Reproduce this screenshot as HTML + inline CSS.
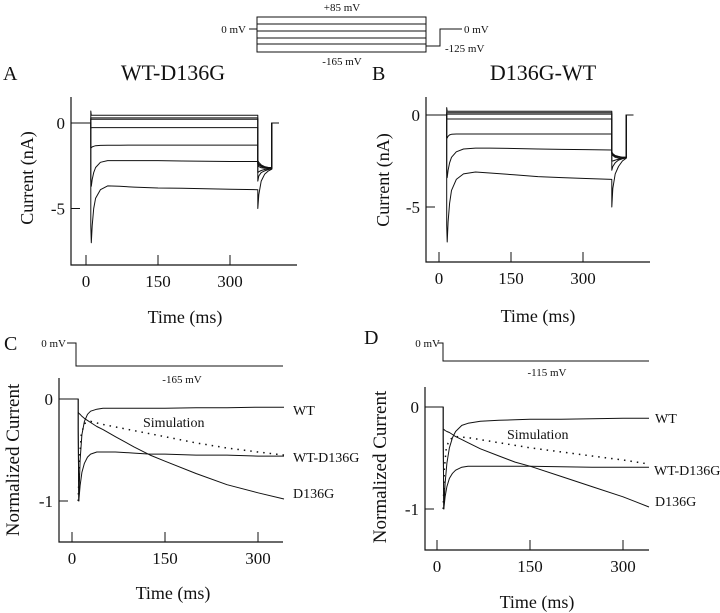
<!DOCTYPE html>
<html><head><meta charset="utf-8">
<style>
html,body{margin:0;padding:0;background:#fff;}
svg{display:block;font-family:"Liberation Serif",serif;}
text{fill:#111;}
</style></head>
<body>
<svg id="fig" width="720" height="613" viewBox="0 0 720 613">
  <rect x="0" y="0" width="720" height="613" fill="#fff"/>
  <g stroke="#111" stroke-width="1" fill="none">
    <rect x="257" y="17" width="169" height="35"/>
    <line x1="257" y1="24" x2="426" y2="24"/>
    <line x1="257" y1="31" x2="426" y2="31"/>
    <line x1="257" y1="38" x2="426" y2="38"/>
    <line x1="257" y1="44" x2="426" y2="44"/>
    <line x1="249" y1="29" x2="257" y2="29"/>
    <polyline points="426,46 440,46 440,29 462,29"/>
  </g>
  <g font-size="11">
    <text x="342" y="11" text-anchor="middle">+85 mV</text>
    <text x="246" y="33" text-anchor="end">0 mV</text>
    <text x="342" y="65" text-anchor="middle">-165 mV</text>
    <text x="464" y="33">0 mV</text>
    <text x="445" y="52">-125 mV</text>
  </g>
  <text x="3" y="80" font-size="20">A</text>
  <text x="173" y="80" font-size="22" text-anchor="middle">WT-D136G</text>
  <text x="372" y="80" font-size="20">B</text>
  <text x="543" y="80" font-size="22" text-anchor="middle">D136G-WT</text>
  <text x="4" y="350" font-size="20">C</text>
  <text x="364" y="344" font-size="20">D</text>

  <g>
    <polyline points="67,343 76,343 76,366 283,366" fill="none" stroke="#111" stroke-width="1"/>
    <text x="66" y="347" font-size="11" text-anchor="end">0 mV</text>
    <text x="182" y="383" font-size="11" text-anchor="middle">-165 mV</text>
  </g>
  <g>
    <polyline points="438,343 443,343 443,361 649,361" fill="none" stroke="#111" stroke-width="1"/>
    <text x="440" y="347" font-size="11" text-anchor="end">0 mV</text>
    <text x="547" y="376" font-size="11" text-anchor="middle">-115 mV</text>
  </g>

  <g font-size="14">
    <text x="293" y="415">WT</text>
    <text x="143" y="427">Simulation</text>
    <text x="293" y="462">WT-D136G</text>
    <text x="293" y="498">D136G</text>
    <text x="655" y="423">WT</text>
    <text x="507" y="439">Simulation</text>
    <text x="654" y="475">WT-D136G</text>
    <text x="655" y="506">D136G</text>
  </g>
</svg>
<script>
// ---- data ----
const tA = [0,10,10,11,13,16,20,30,45,70,100,150,200,250,300,358,358,360,365,372,380,387,387,402];
const A1 = [0,0,0.7,0.45,0.45,0.45,0.45,0.45,0.45,0.45,0.45,0.45,0.45,0.45,0.45,0.45,-2.2,-2.3,-2.45,-2.55,-2.6,-2.6,0,0];
const A2 = [0,0,0.3,0.3,0.3,0.3,0.3,0.3,0.3,0.3,0.3,0.3,0.3,0.3,0.3,0.3,-2.3,-2.4,-2.5,-2.58,-2.6,-2.6,0,0];
const A3 = [0,0,0.22,0.22,0.22,0.22,0.22,0.22,0.22,0.22,0.22,0.22,0.22,0.22,0.22,0.22,-2.35,-2.45,-2.55,-2.6,-2.62,-2.62,0,0];
const A4 = [0,0,-0.3,-0.28,-0.27,-0.27,-0.27,-0.27,-0.27,-0.27,-0.27,-0.27,-0.27,-0.27,-0.27,-0.27,-2.4,-2.55,-2.62,-2.65,-2.65,-2.65,0,0];
const A5 = [0,0,-1.45,-1.45,-1.4,-1.36,-1.33,-1.31,-1.3,-1.3,-1.29,-1.29,-1.29,-1.29,-1.29,-1.29,-2.9,-2.85,-2.78,-2.72,-2.68,-2.65,0,0];
const A6 = [0,0,-3.3,-3.7,-3.3,-2.9,-2.6,-2.3,-2.2,-2.2,-2.2,-2.2,-2.22,-2.24,-2.25,-2.25,-3.4,-3.1,-2.9,-2.8,-2.72,-2.68,0,0];
const A7 = [0,0,-6,-7.0,-6.0,-5.0,-4.4,-3.9,-3.68,-3.7,-3.75,-3.8,-3.82,-3.85,-3.88,-3.9,-5.0,-4.2,-3.4,-3.0,-2.8,-2.7,0,0];

const tB = [-26,16,16,17,19,22,26,36,51,76,106,156,206,256,306,360,360,362,367,374,382,390,390,405];
const B1 = [0,0,0.4,0.2,0.2,0.2,0.2,0.2,0.2,0.2,0.2,0.2,0.2,0.2,0.2,0.2,-2.0,-2.1,-2.2,-2.25,-2.3,-2.3,0,0];
const B2 = [0,0,0.12,0.12,0.12,0.12,0.12,0.12,0.12,0.12,0.12,0.12,0.12,0.12,0.12,0.12,-2.05,-2.15,-2.22,-2.27,-2.3,-2.3,0,0];
const B3 = [0,0,0.05,0.05,0.05,0.05,0.05,0.05,0.05,0.05,0.05,0.05,0.05,0.05,0.05,0.05,-2.08,-2.18,-2.25,-2.3,-2.32,-2.32,0,0];
const B4 = [0,0,-0.22,-0.22,-0.22,-0.22,-0.22,-0.22,-0.22,-0.22,-0.22,-0.22,-0.22,-0.22,-0.22,-0.22,-2.1,-2.2,-2.3,-2.35,-2.35,-2.33,0,0];
const B5 = [0,0,-1.2,-1.25,-1.15,-1.08,-1.05,-1.03,-1.03,-1.03,-1.03,-1.03,-1.03,-1.03,-1.03,-1.03,-2.5,-2.5,-2.45,-2.4,-2.35,-2.33,0,0];
const B6 = [0,0,-3.0,-3.4,-3.0,-2.6,-2.3,-2.0,-1.85,-1.8,-1.8,-1.82,-1.85,-1.87,-1.88,-1.9,-3.0,-2.8,-2.6,-2.45,-2.38,-2.33,0,0];
const B7 = [0,0,-6,-6.9,-5.8,-4.8,-4.1,-3.5,-3.2,-3.1,-3.15,-3.25,-3.35,-3.4,-3.45,-3.5,-5.0,-4.0,-3.2,-2.8,-2.5,-2.35,0,0];

const tN = [-20,10,10,11,13,16,20,25,30,40,50,70,100,126,150,200,250,300,342];
const WT_C = [0,0,-0.3,-1.0,-0.6,-0.35,-0.22,-0.15,-0.12,-0.1,-0.09,-0.09,-0.09,-0.09,-0.09,-0.085,-0.085,-0.08,-0.08];
const WTD_C = [0,0,-0.3,-1.0,-0.85,-0.72,-0.63,-0.57,-0.54,-0.52,-0.52,-0.52,-0.53,-0.54,-0.54,-0.55,-0.55,-0.56,-0.56];
const D136G_C = [0,0,-0.13,-0.14,-0.15,-0.17,-0.19,-0.21,-0.23,-0.27,-0.3,-0.37,-0.47,-0.55,-0.61,-0.73,-0.84,-0.92,-0.98];
const WT_D = [0,0,-0.3,-1.0,-0.75,-0.55,-0.4,-0.3,-0.24,-0.18,-0.16,-0.14,-0.13,-0.125,-0.12,-0.12,-0.115,-0.11,-0.11];
const WTD_D = [0,0,-0.3,-1.0,-0.88,-0.78,-0.7,-0.65,-0.62,-0.59,-0.58,-0.58,-0.58,-0.58,-0.58,-0.585,-0.59,-0.59,-0.59];
const D136G_D = [0,0,-0.22,-0.22,-0.23,-0.24,-0.25,-0.27,-0.29,-0.32,-0.35,-0.41,-0.48,-0.54,-0.58,-0.68,-0.78,-0.88,-0.98];

const tSim = [10,12,15,20,30,50,100,150,200,250,300,342];
const SIM_C = [-1.0,-0.6,-0.35,-0.24,-0.22,-0.25,-0.31,-0.37,-0.43,-0.48,-0.52,-0.55];
const SIM_D = [-1.0,-0.6,-0.4,-0.32,-0.29,-0.3,-0.35,-0.4,-0.44,-0.48,-0.52,-0.56];

const xTicks = [0,150,300];
const xTickLabels = ['0','150','300'];
const yTicksAB = [0,-5];
const yTickLabelsAB = ['0','-5'];
const yTicksCD = [0,-1];
const yTickLabelsCD = ['0','-1'];

// ---- drawing ----
const NS = 'http://www.w3.org/2000/svg';
const svg = document.getElementById('fig');

function mk(tag, attrs, parent) {
  const el = document.createElementNS(NS, tag);
  for (const k in attrs) el.setAttribute(k, attrs[k]);
  (parent || svg).appendChild(el);
  return el;
}

function panel(p) {
  const g = mk('g', {});
  
  
  p.sx = t => p.x0 + t * p.kx;
  p.sy = v => p.y0 - v * p.ky;
  const ax = mk('polyline', {points: `${p.left},${p.top} ${p.left},${p.bottom} ${p.right},${p.bottom}`, fill: 'none', stroke: '#111', 'stroke-width': 1.2}, g);
  
  
  xTicks.forEach((t, i) => {
    const x = p.sx(t);
    const tk = mk('line', {x1: x, x2: x, y1: p.bottom - 10, y2: p.bottom, stroke: '#111', 'stroke-width': 1}, g);
    
    
    const lb = mk('text', {x: x, y: p.bottom + 22, 'font-size': 17, 'text-anchor': 'middle'}, g);
    lb.textContent = xTickLabels[i];
    
    
  });
  p.yTicks.forEach((v, i) => {
    const y = p.sy(v);
    const tk = mk('line', {x1: p.left, x2: p.left + 9, y1: y, y2: y, stroke: '#111', 'stroke-width': 1}, g);
    
    
    const lb = mk('text', {x: p.left - 6, y: y + 6, 'font-size': 17, 'text-anchor': 'end'}, g);
    lb.textContent = p.yTickLabels[i];
    
    
  });
  const xt = mk('text', {x: p.xtx, y: p.xty, 'font-size': 18, 'text-anchor': 'middle'}, g);
  xt.textContent = 'Time (ms)';
  
  
  const yt = mk('text', {x: 0, y: 0, 'font-size': p.ytSize, 'text-anchor': 'middle', transform: `translate(${p.ytx},${p.yty}) rotate(-90)`}, g);
  yt.textContent = p.yTitle;
  
  
  p.g = g;
  return p;
}

function trace(p, ts, vs, name, dashed) {
  const pts = ts.map((t, i) => p.sx(t).toFixed(1) + ',' + p.sy(vs[i]).toFixed(1)).join(' ');
  const attrs = {points: pts, fill: 'none', stroke: '#111', 'stroke-width': 1.0, 'stroke-linejoin': 'round'};
  if (dashed) { attrs['stroke-dasharray'] = '1.5 5'; attrs['stroke-width'] = 1.5; }
  const el = mk('polyline', attrs, p.g);
  
  
}

const pA = panel({name: 'panel-a', x0: 86, kx: 0.48, y0: 123, ky: 17.1, left: 71, top: 97, bottom: 265, right: 297,
  yTicks: yTicksAB, yTickLabels: yTickLabelsAB, xtx: 185, xty: 323, ytx: 33, yty: 178, ytSize: 18, yTitle: 'Current (nA)'});
const pB = panel({name: 'panel-b', x0: 439, kx: 0.48, y0: 115, ky: 18.4, left: 426, top: 97, bottom: 262, right: 650,
  yTicks: yTicksAB, yTickLabels: yTickLabelsAB, xtx: 538, xty: 322, ytx: 389, yty: 180, ytSize: 18, yTitle: 'Current (nA)'});
const pC = panel({name: 'panel-c', x0: 72, kx: 0.62, y0: 399, ky: 102, left: 59, top: 378, bottom: 542, right: 283,
  yTicks: yTicksCD, yTickLabels: yTickLabelsCD, xtx: 173, xty: 599, ytx: 19, yty: 460, ytSize: 19, yTitle: 'Normalized Current'});
const pD = panel({name: 'panel-d', x0: 437, kx: 0.62, y0: 407, ky: 102, left: 425, top: 387, bottom: 550, right: 649,
  yTicks: yTicksCD, yTickLabels: yTickLabelsCD, xtx: 537, xty: 608, ytx: 386, yty: 467, ytSize: 19, yTitle: 'Normalized Current'});

const tA0 = tA.slice(); tA0[0] = -31;
[A1, A2, A3, A4, A5, A6, A7].forEach((s, i) => trace(pA, tA0, s, 'current-trace-a-' + (i + 1), false));
[B1, B2, B3, B4, B5, B6, B7].forEach((s, i) => trace(pB, tB, s, 'current-trace-b-' + (i + 1), false));

trace(pC, tN, WT_C, 'wt-trace-c', false);
trace(pC, tN, WTD_C, 'wt-d136g-trace-c', false);
trace(pC, tN.slice(2), D136G_C.slice(2), 'd136g-trace-c', false);
trace(pC, tSim, SIM_C, 'simulation-trace-c', true);

trace(pD, tN, WT_D, 'wt-trace-d', false);
trace(pD, tN, WTD_D, 'wt-d136g-trace-d', false);
trace(pD, tN.slice(2), D136G_D.slice(2), 'd136g-trace-d', false);
trace(pD, tSim, SIM_D, 'simulation-trace-d', true);
</script>
</body></html>
